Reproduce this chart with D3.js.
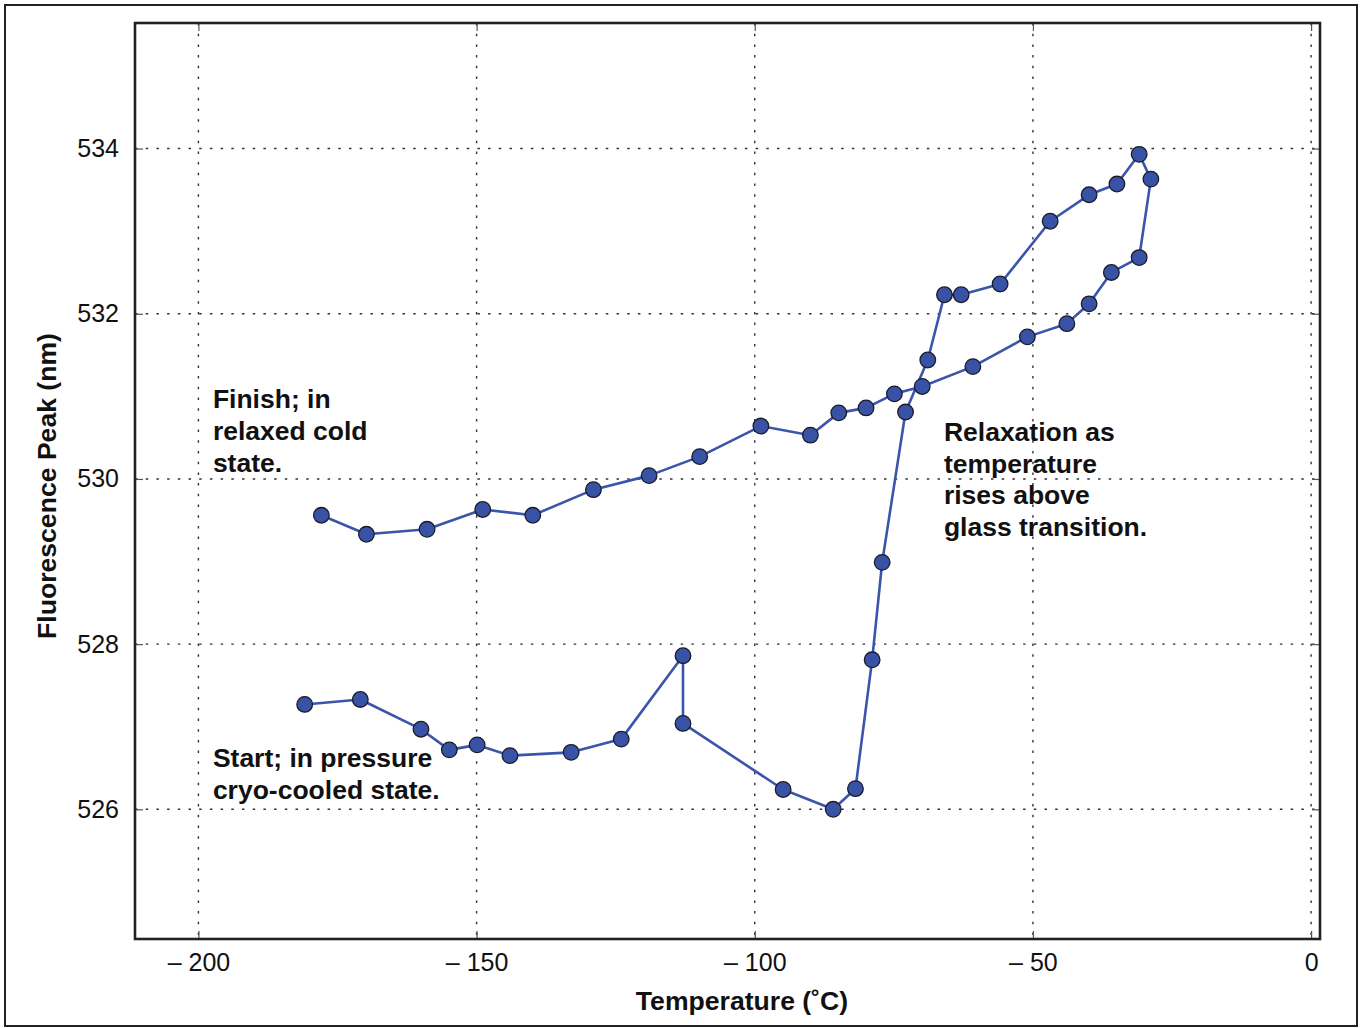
<!DOCTYPE html>
<html>
<head>
<meta charset="utf-8">
<script src="https://cdn.jsdelivr.net/npm/d3@7"></script>
<style>
  html, body { margin: 0; padding: 0; background: #fff; }
  svg { display: block; }
  text { font-family: "Liberation Sans", Arial, Helvetica, sans-serif; fill: #111; }
</style>
</head>
<body>
<svg id="chart" width="1362" height="1028"></svg>
<script>
// Measurement path (in order: start -> finish)
const temperature = [
  -180.9, -170.9, -160.0, -154.9, -149.9, -144.0, -133.0, -124.0, -112.9, -112.9,
  -94.9, -85.9, -81.9, -78.9, -77.1, -72.9, -68.9, -65.9, -62.9, -55.9,
  -46.9, -39.9, -34.9, -30.9, -28.8, -30.9, -35.9, -39.9, -43.9, -51.0,
  -60.8, -69.9, -74.9, -80.0, -84.9, -90.0, -98.9, -109.9, -119.0, -129.0,
  -139.9, -148.9, -158.9, -169.8, -177.9
];
const peak = [
  527.27, 527.33, 526.97, 526.72, 526.78, 526.65, 526.69, 526.85, 527.86, 527.04,
  526.24, 526.00, 526.25, 527.81, 528.99, 530.81, 531.44, 532.23, 532.23, 532.36,
  533.12, 533.44, 533.57, 533.93, 533.63, 532.68, 532.50, 532.12, 531.88, 531.72,
  531.36, 531.12, 531.03, 530.86, 530.80, 530.53, 530.64, 530.27, 530.04, 529.87,
  529.56, 529.63, 529.39, 529.33, 529.56
];
const xTicks = [-200, -150, -100, -50, 0];
const yTicks = [526, 528, 530, 532, 534];
const xDomain = [-211.4, 1.6];
const yDomain = [524.43, 535.52];
const annotations = [
  { x: -197.4, y: 530.855, lines: ["Finish; in", "relaxed cold", "state."] },
  { x: -197.4, y: 526.51,  lines: ["Start; in pressure", "cryo-cooled state."] },
  { x: -66.0,  y: 530.46,  lines: ["Relaxation as", "temperature", "rises above", "glass transition."] }
];

const svg = d3.select("#chart");
const L = 135, R = 1320, T = 23, B = 939;
const x = d3.scaleLinear().domain(xDomain).range([L, R]);
const y = d3.scaleLinear().domain(yDomain).range([B, T]);

// outer frame
svg.append("rect").attr("x", 5).attr("y", 5).attr("width", 1352).attr("height", 1021)
  .attr("fill", "none").attr("stroke", "#222").attr("stroke-width", 2);

// gridlines
const grid = svg.append("g").attr("stroke", "#333").attr("stroke-width", 1.4)
  .attr("stroke-dasharray", "2.5,8.2");
grid.selectAll(".gx").data(xTicks).join("line")
  .attr("x1", d => x(d)).attr("x2", d => x(d)).attr("y1", T).attr("y2", B);
grid.selectAll(".gy").data(yTicks).join("line")
  .attr("y1", d => y(d)).attr("y2", d => y(d)).attr("x1", L).attr("x2", R);

const fmt = d => d < 0 ? "\u2013 " + Math.abs(d) : String(d);

// axes (inward ticks)
const axB = svg.append("g").attr("transform", `translate(0,${B})`)
  .call(d3.axisBottom(x).tickValues(xTicks).tickFormat(fmt).tickSize(-8).tickPadding(14));
const axT = svg.append("g").attr("transform", `translate(0,${T})`)
  .call(d3.axisTop(x).tickValues(xTicks).tickFormat("").tickSize(-8));
const axL = svg.append("g").attr("transform", `translate(${L},0)`)
  .call(d3.axisLeft(y).tickValues(yTicks).tickFormat(d3.format("d")).tickSize(-8).tickPadding(16));
const axR = svg.append("g").attr("transform", `translate(${R},0)`)
  .call(d3.axisRight(y).tickValues(yTicks).tickFormat("").tickSize(-8));
[axB, axT, axL, axR].forEach(a => {
  a.select(".domain").remove();
  a.selectAll(".tick line").attr("stroke", "#555").attr("stroke-width", 1.2);
  a.selectAll(".tick text").attr("font-size", 25).attr("fill", "#111")
    .attr("font-family", "'Liberation Sans', Arial, sans-serif");
});

// plot box
svg.append("rect").attr("x", L).attr("y", T).attr("width", R - L).attr("height", B - T)
  .attr("fill", "none").attr("stroke", "#222").attr("stroke-width", 2.6);

// line + markers
const pts = temperature.map((t, i) => [t, peak[i]]);
svg.append("path").datum(pts)
  .attr("fill", "none").attr("stroke", "#3a55aa").attr("stroke-width", 2.6)
  .attr("stroke-linejoin", "round")
  .attr("d", d3.line().x(d => x(d[0])).y(d => y(d[1])));
svg.append("g").selectAll("circle").data(pts).join("circle")
  .attr("cx", d => x(d[0])).attr("cy", d => y(d[1])).attr("r", 7.8)
  .attr("fill", "#3852a6").attr("stroke", "#1c1c28").attr("stroke-width", 1.3);

// annotations
annotations.forEach(a => {
  const t = svg.append("text").attr("x", x(a.x)).attr("y", y(a.y))
    .attr("font-size", 26.5).attr("font-weight", "bold");
  a.lines.forEach((ln, i) => {
    t.append("tspan").attr("x", x(a.x)).attr("dy", i === 0 ? 0 : 31.6).text(ln);
  });
});

// axis titles
svg.append("text").attr("x", 742).attr("y", 1010).attr("text-anchor", "middle")
  .attr("font-size", 26.6).attr("font-weight", "bold").text("Temperature (\u02DAC)");
svg.append("text").attr("transform", "translate(56,486) rotate(-90)")
  .attr("text-anchor", "middle").attr("font-size", 26.6).attr("font-weight", "bold")
  .text("Fluorescence Peak (nm)");
</script>
</body>
</html>
